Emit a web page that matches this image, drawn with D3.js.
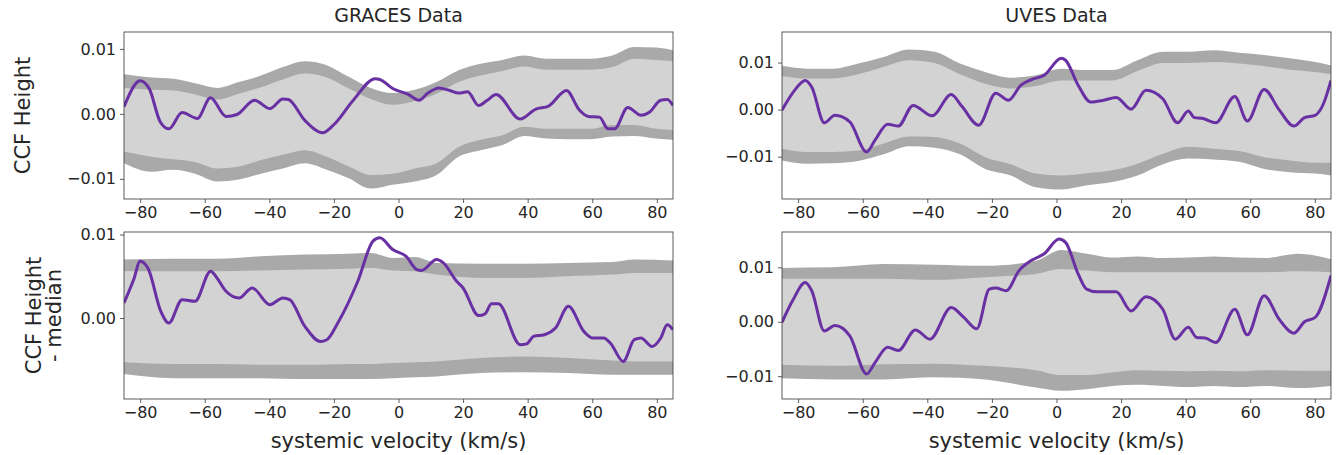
<!DOCTYPE html>
<html>
<head>
<meta charset="utf-8">
<script src="https://cdn.jsdelivr.net/npm/d3@7"></script>
<style>
  body { margin: 0; background: white; }
  text { font-family: "DejaVu Sans", sans-serif; fill: #262626; }
</style>
</head>
<body>
<div id="chart"></div>
<script>
// ---- data ----
// GRACES, top panel (CCF Height)
const gracesTopLineX = [-85, -80, -77.2, -73.8, -71.1, -67, -62.3, -58.2, -53.4, -50, -44.6, -39.8, -35.8, -34.1, -29, -23.5, -20.1, -14, -7.2, -5.8, -1.8, 3, 6.4, 9.1, 12.5, 15.9, 18.6, 21.4, 24.8, 27.5, 30.2, 37.7, 42.4, 46.5, 52, 56, 58.8, 62.2, 64.9, 66.9, 71, 75.1, 77.8, 81.2, 83.2, 85];
const gracesTopLineY = [0.0011, 0.0051, 0.0039, -0.0012, -0.0023, 0.0002, -0.0007, 0.0025, -0.0004, -0.0001, 0.0021, 0.0008, 0.0023, 0.0022, -0.001, -0.0029, -0.0017, 0.0021, 0.0054, 0.0053, 0.0039, 0.003, 0.0021, 0.0032, 0.004, 0.0036, 0.0032, 0.0034, 0.0013, 0.0021, 0.003, -0.0008, 0.0007, 0.0012, 0.0036, 0.0006, -0.0004, -0.0005, -0.0023, -0.0023, 0.001, -0.0002, 0.0003, 0.0021, 0.0022, 0.0013];
const gracesTopBandX = [-85, -76.6, -69.8, -63, -56.2, -49.4, -42.6, -35.8, -29, -22.2, -15.4, -8.6, -1.8, 5, 11.8, 18.6, 25.4, 32.2, 39, 45.8, 52.6, 59.4, 66.2, 73, 79.8, 85];
const gracesTopUpperOuter = [0.0061, 0.0056, 0.0054, 0.0047, 0.0040, 0.0049, 0.0059, 0.0072, 0.0081, 0.0075, 0.0057, 0.0040, 0.0032, 0.0037, 0.0049, 0.0067, 0.0077, 0.0083, 0.0090, 0.0085, 0.0085, 0.0085, 0.0090, 0.0103, 0.0102, 0.0098];
const gracesTopUpperInner = [0.0040, 0.0037, 0.0036, 0.0030, 0.0022, 0.0031, 0.0041, 0.0053, 0.0062, 0.0056, 0.0039, 0.0023, 0.0014, 0.0020, 0.0031, 0.0049, 0.0059, 0.0066, 0.0073, 0.0068, 0.0068, 0.0068, 0.0072, 0.0085, 0.0083, 0.0081];
const gracesTopLowerInner = [-0.0058, -0.0066, -0.0070, -0.0074, -0.0084, -0.0081, -0.0071, -0.0063, -0.0056, -0.0066, -0.0081, -0.0094, -0.0092, -0.0084, -0.0076, -0.0051, -0.0040, -0.0033, -0.0020, -0.0023, -0.0023, -0.0023, -0.0017, -0.0017, -0.0023, -0.0025];
const gracesTopLowerOuter = [-0.0076, -0.0089, -0.0086, -0.0092, -0.0104, -0.0101, -0.0092, -0.0084, -0.0076, -0.0086, -0.0099, -0.0115, -0.0109, -0.0104, -0.0094, -0.0066, -0.0056, -0.0048, -0.0034, -0.0038, -0.0039, -0.0039, -0.0035, -0.0034, -0.0038, -0.0040];

// GRACES, bottom panel (CCF Height - median)
const gracesBotLineX = [-85, -82, -80, -77.5, -73.6, -71.1, -67, -63, -58.2, -56.2, -53.4, -49.4, -45.3, -39.8, -35.8, -33.7, -29, -24.2, -22.2, -18.8, -12.6, -7.9, -5.8, -1.8, 2.3, 5.7, 7.1, 11.8, 13.9, 18, 20, 24.8, 26.8, 28.8, 30.9, 37.7, 39.7, 41.8, 45.2, 48.6, 52.6, 57.4, 60.1, 63.5, 65.6, 69.6, 73, 75.1, 78.5, 81.2, 83.2, 85];
const gracesBotLineY = [0.0018, 0.0046, 0.0068, 0.0059, 0.0008, -0.0006, 0.0022, 0.002, 0.0056, 0.0048, 0.0032, 0.0024, 0.0036, 0.0016, 0.0024, 0.0022, -0.001, -0.0028, -0.0026, -0.0006, 0.0044, 0.0092, 0.0096, 0.0082, 0.0074, 0.0058, 0.0057, 0.007, 0.0066, 0.0044, 0.0036, 0.0003, 0.0005, 0.0017, 0.0017, -0.0032, -0.0031, -0.0022, -0.002, -0.0012, 0.0014, -0.0016, -0.0024, -0.0024, -0.003, -0.0052, -0.0026, -0.0024, -0.0034, -0.0024, -0.0008, -0.0014];
const gracesBotBandX = [-85, -69.8, -56.2, -42.6, -29, -15.4, -8.6, -1.8, 5, 11.8, 25.4, 39, 52.6, 66.2, 73, 85];
const gracesBotUpperOuter = [0.0070, 0.0071, 0.0071, 0.0074, 0.0076, 0.0077, 0.0078, 0.0072, 0.0073, 0.0066, 0.0065, 0.0065, 0.0066, 0.0067, 0.0070, 0.0069];
const gracesBotUpperInner = [0.0056, 0.0056, 0.0056, 0.0057, 0.0058, 0.0059, 0.0060, 0.0057, 0.0056, 0.0052, 0.0048, 0.0048, 0.0050, 0.0052, 0.0054, 0.0054];
const gracesBotLowerInner = [-0.0053, -0.0055, -0.0055, -0.0056, -0.0056, -0.0055, -0.0055, -0.0054, -0.0053, -0.0052, -0.0048, -0.0046, -0.0048, -0.0051, -0.0052, -0.0052];
const gracesBotLowerOuter = [-0.0067, -0.0072, -0.0072, -0.0072, -0.0073, -0.0073, -0.0073, -0.0072, -0.0071, -0.0070, -0.0066, -0.0065, -0.0066, -0.0068, -0.0068, -0.0068];

// UVES, top panel
const uvesTopLineX = [-85, -81.1, -77.8, -75.8, -71.9, -68.6, -64, -58.8, -56.2, -52.3, -49, -44.4, -38.5, -32.6, -29.3, -24.1, -18.8, -14.9, -11, -7.7, -3.8, 1.5, 2.8, 6.7, 10.6, 14.6, 18.5, 23.1, 27.7, 32.9, 37.5, 40.8, 42.7, 45.4, 49.3, 55.2, 59.1, 64.3, 68.9, 73.5, 76.8, 80.1, 82.7, 85];
const uvesTopLineY = [-0.0001, 0.0041, 0.0062, 0.0048, -0.0028, -0.0012, -0.0026, -0.009, -0.0065, -0.0031, -0.0035, 0.0009, -0.0013, 0.0032, 0.0007, -0.0033, 0.0035, 0.002, 0.0052, 0.0064, 0.0073, 0.0109, 0.0105, 0.0052, 0.0016, 0.002, 0.0026, 0.0001, 0.0041, 0.0023, -0.0028, -0.0003, -0.0017, -0.0019, -0.0028, 0.0028, -0.0024, 0.0043, 0, -0.0035, -0.0017, -0.0012, 0.0013, 0.0062];
const uvesTopBandX = [-85, -77.1, -69.3, -61.4, -53.5, -45.7, -37.8, -29.9, -22.1, -14.2, -6.4, 1.5, 9.4, 17.3, 25.1, 33, 40.8, 48.7, 56.6, 64.4, 72.3, 80.1, 85];
const uvesTopUpperOuter = [0.0093, 0.0087, 0.0087, 0.0098, 0.0112, 0.0128, 0.0123, 0.0098, 0.0080, 0.0068, 0.0073, 0.0087, 0.0084, 0.0084, 0.0105, 0.0123, 0.0123, 0.0126, 0.0121, 0.0116, 0.0109, 0.0101, 0.0094];
const uvesTopUpperInner = [0.0071, 0.0066, 0.0066, 0.0075, 0.0091, 0.0105, 0.0099, 0.0075, 0.0055, 0.0045, 0.0050, 0.0062, 0.0062, 0.0062, 0.0082, 0.0099, 0.0099, 0.0101, 0.0098, 0.0092, 0.0085, 0.0080, 0.0075];
const uvesTopLowerInner = [-0.0083, -0.0090, -0.0090, -0.0087, -0.0072, -0.0057, -0.0058, -0.0072, -0.0101, -0.0116, -0.0136, -0.0140, -0.0135, -0.0129, -0.0115, -0.0094, -0.0079, -0.0083, -0.0088, -0.0101, -0.0108, -0.0113, -0.0113];
const uvesTopLowerOuter = [-0.0108, -0.0115, -0.0114, -0.0109, -0.0095, -0.0078, -0.0081, -0.0095, -0.0126, -0.0140, -0.0165, -0.0170, -0.0161, -0.0154, -0.0140, -0.0116, -0.0104, -0.0106, -0.0111, -0.0126, -0.0133, -0.0136, -0.0140];

// UVES, bottom panel
const uvesBotLineX = [-85, -81.7, -77.8, -75.8, -71.9, -68.6, -64, -58.8, -56.2, -52.3, -49, -43.7, -39.2, -32.6, -28.7, -24.7, -20.8, -18.8, -15.6, -11.6, -7.7, -3.8, 0.8, 2.8, 6.7, 9.3, 12.6, 18.5, 23.1, 27.7, 32.9, 36.8, 40.8, 43.4, 46, 49.3, 55.2, 59.1, 64.3, 68.9, 73.5, 76.8, 80.1, 85];
const uvesBotLineY = [-0.0001, 0.0039, 0.0072, 0.0057, -0.0017, -0.0007, -0.0026, -0.0096, -0.0075, -0.0047, -0.0053, -0.0015, -0.0032, 0.0026, 0.0008, -0.0013, 0.006, 0.0062, 0.0057, 0.0094, 0.0113, 0.0125, 0.0152, 0.0146, 0.0088, 0.006, 0.0055, 0.0055, 0.002, 0.0046, 0.0023, -0.0032, -0.001, -0.0029, -0.003, -0.0038, 0.0023, -0.0024, 0.0048, 0.0005, -0.0021, 0, 0.0008, 0.0085];
const uvesBotBandX = [-85, -69.3, -53.5, -37.8, -22.1, -6.4, 1.5, 9.4, 17.3, 25.1, 33, 40.8, 48.7, 56.6, 64.4, 74.9, 85];
const uvesBotUpperOuter = [0.0099, 0.0100, 0.0106, 0.0105, 0.0103, 0.0112, 0.0132, 0.0125, 0.0118, 0.0120, 0.0117, 0.0118, 0.0120, 0.0118, 0.0117, 0.0125, 0.0115];
const uvesBotUpperInner = [0.0079, 0.0079, 0.0079, 0.0077, 0.0082, 0.0088, 0.0097, 0.0094, 0.0091, 0.0091, 0.0091, 0.0091, 0.0091, 0.0091, 0.0091, 0.0093, 0.0091];
const uvesBotLowerInner = [-0.0079, -0.0081, -0.0078, -0.0077, -0.0081, -0.0089, -0.0098, -0.0098, -0.0093, -0.0089, -0.0090, -0.0091, -0.0090, -0.0091, -0.0089, -0.0090, -0.0090];
const uvesBotLowerOuter = [-0.0104, -0.0106, -0.0106, -0.0102, -0.0106, -0.0121, -0.0127, -0.0124, -0.0118, -0.0116, -0.0118, -0.0120, -0.0118, -0.0120, -0.0118, -0.0122, -0.0118];

const xTicks = [-80, -60, -40, -20, 0, 20, 40, 60, 80];
const titles = ["GRACES Data", "UVES Data"];
const yLabelTop = ["CCF Height"];
const yLabelBottom = ["CCF Height", "- median"];
const xLabel = "systemic velocity (km/s)";

// ---- layout ----
const width = 1343, height = 455;
const colLeft = [124, 782];
const colWidth = 549;
const rowTop = [32, 232];
const rowHeight = [167, 167];

const panels = [
  { col: 0, row: 0, yDomain: [-0.0131, 0.0126], yTicks: [-0.01, 0, 0.01],
    lineX: gracesTopLineX, lineY: gracesTopLineY, bandX: gracesTopBandX,
    uo: gracesTopUpperOuter, ui: gracesTopUpperInner, li: gracesTopLowerInner, lo: gracesTopLowerOuter },
  { col: 0, row: 1, yDomain: [-0.0097, 0.0103], yTicks: [0, 0.01],
    lineX: gracesBotLineX, lineY: gracesBotLineY, bandX: gracesBotBandX,
    uo: gracesBotUpperOuter, ui: gracesBotUpperInner, li: gracesBotLowerInner, lo: gracesBotLowerOuter },
  { col: 1, row: 0, yDomain: [-0.019, 0.0165], yTicks: [-0.01, 0, 0.01],
    lineX: uvesTopLineX, lineY: uvesTopLineY, bandX: uvesTopBandX,
    uo: uvesTopUpperOuter, ui: uvesTopUpperInner, li: uvesTopLowerInner, lo: uvesTopLowerOuter },
  { col: 1, row: 1, yDomain: [-0.0142, 0.0165], yTicks: [-0.01, 0, 0.01],
    lineX: uvesBotLineX, lineY: uvesBotLineY, bandX: uvesBotBandX,
    uo: uvesBotUpperOuter, ui: uvesBotUpperInner, li: uvesBotLowerInner, lo: uvesBotLowerOuter }
];

const fmtY = d => d3.format(".2f")(d).replace("-", "\u2212");
const fmtX = d => String(d).replace("-", "\u2212");

const svg = d3.select("#chart").append("svg")
  .attr("width", width)
  .attr("height", height)
  .style("background", "white");

panels.forEach((p, i) => {
  const x0 = colLeft[p.col], y0 = rowTop[p.row], h = rowHeight[p.row];

  const x = d3.scaleLinear().domain([-85, 85]).range([x0, x0 + colWidth]);
  const y = d3.scaleLinear().domain(p.yDomain).range([y0 + h, y0]);

  svg.append("clipPath").attr("id", "clip" + i)
    .append("rect").attr("x", x0).attr("y", y0).attr("width", colWidth).attr("height", h);

  const g = svg.append("g").attr("clip-path", `url(#clip${i})`);

  const band = p.bandX.map((v, k) => ({ x: v, uo: p.uo[k], ui: p.ui[k], li: p.li[k], lo: p.lo[k] }));

  // outer envelope in dark grey, inner envelope in light grey on top
  g.append("path").datum(band)
    .attr("fill", "#a9a9a9")
    .attr("d", d3.area().x(d => x(d.x)).y0(d => y(d.lo)).y1(d => y(d.uo)).curve(d3.curveMonotoneX));
  g.append("path").datum(band)
    .attr("fill", "#d3d3d3")
    .attr("d", d3.area().x(d => x(d.x)).y0(d => y(d.li)).y1(d => y(d.ui)).curve(d3.curveMonotoneX));

  const pts = p.lineX.map((v, k) => [v, p.lineY[k]]);
  g.append("path").datum(pts)
    .attr("fill", "none")
    .attr("stroke", "#6930a3")
    .attr("stroke-width", 3)
    .attr("stroke-linejoin", "round")
    .attr("d", d3.line().x(d => x(d[0])).y(d => y(d[1])).curve(d3.curveMonotoneX));

  // axes
  const xAxis = svg.append("g")
    .attr("transform", `translate(0,${y0 + h})`)
    .call(d3.axisBottom(x).tickValues(xTicks).tickFormat(fmtX).tickSize(4).tickPadding(4));
  const yAxis = svg.append("g")
    .attr("transform", `translate(${x0},0)`)
    .call(d3.axisLeft(y).tickValues(p.yTicks).tickFormat(fmtY).tickSize(4).tickPadding(4));
  [xAxis, yAxis].forEach(a => {
    a.select(".domain").remove();
    a.selectAll("line").attr("stroke", "#333").attr("stroke-width", 0.8);
    a.selectAll("text").style("font-size", "16px").style("font-family", "DejaVu Sans").attr("fill", "#262626");
  });

  // frame
  svg.append("rect")
    .attr("x", x0).attr("y", y0).attr("width", colWidth).attr("height", h)
    .attr("fill", "none").attr("stroke", "#333").attr("stroke-width", 0.8);

  if (p.row === 0) {
    svg.append("text")
      .attr("x", x0 + colWidth / 2).attr("y", 22)
      .attr("text-anchor", "middle")
      .style("font-size", "19px")
      .text(titles[p.col]);
  } else {
    svg.append("text")
      .attr("x", x0 + colWidth / 2).attr("y", 448)
      .attr("text-anchor", "middle")
      .style("font-size", "21px")
      .text(xLabel);
  }
});

// y labels
svg.append("text")
  .attr("transform", `translate(30,${rowTop[0] + rowHeight[0] / 2}) rotate(-90)`)
  .attr("text-anchor", "middle")
  .style("font-size", "21px")
  .text(yLabelTop[0]);

yLabelBottom.forEach((t, k) => {
  svg.append("text")
    .attr("transform", `translate(${41 + k * 20},${rowTop[1] + rowHeight[1] / 2}) rotate(-90)`)
    .attr("text-anchor", "middle")
    .style("font-size", "21px")
    .text(t);
});
</script>
</body>
</html>
